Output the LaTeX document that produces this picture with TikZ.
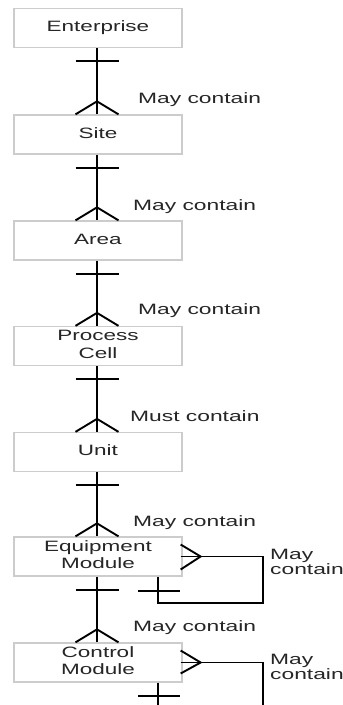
\documentclass[tikz,border=0pt]{standalone}
\usepackage{fontspec}
\usepackage{graphicx}
\setmainfont{Liberation Sans}
\usetikzlibrary{calc}
% widened text, one or more centred lines
\newcommand\widec[1]{\scalebox{1.5}[1]{\begin{tabular}{@{}c@{}}#1\end{tabular}}}
% widened text, left-aligned lines
\newcommand\widel[1]{\scalebox{1.52}[1]{\begin{tabular}{@{}l@{}}#1\end{tabular}}}
\tikzset{
  entity/.style={draw=black!20, line width=1.3pt, minimum width=168pt,
    minimum height=39pt, inner sep=0pt, text=black!85,
    font=\fontsize{15}{17.5}\selectfont},
  rel/.style={line width=1.9pt, black},
  lbl/.style={anchor=west, inner sep=0pt, text=black!85,
    font=\fontsize{15}{15.5}\selectfont},
}
\begin{document}
\begin{tikzpicture}[x=1pt, y=-1pt]
\useasboundingbox (0,0) rectangle (343,705);
\clip (0,0) rectangle (343,705);
\fill[white] (0,0) rectangle (343,705);

% entities
\node[entity] (ent)  at (98,28)    {\widec{Enterprise}};
\node[entity] (site) at (98,134.5) {\widec{Site}};
\node[entity] (area) at (98,240.5) {\widec{Area}};
\node[entity] (pc)   at (98,346)   {\widec{Process\\Cell}};
\node[entity] (unit) at (98,452)   {\widec{Unit}};
\node[entity] (em)   at (98,556.5) {\widec{Equipment\\Module}};
\node[entity] (cm)   at (98,662.5) {\widec{Control\\Module}};

% one-to-many links down the hierarchy
\foreach \a/\b in {ent/site, site/area, area/pc, pc/unit, unit/em, em/cm}{
  \draw[rel] ($(\a.south)+(-1,0)$) -- ($(\b.north)+(-1,0)$);
  \draw[rel] ($(\a.south)+(-22.5,13)$) -- ($(\a.south)+(20.5,13)$);
  \draw[rel] ($(\b.north)+(-22.5,0)$) -- ($(\b.north)+(-1,-13)$)
                                      -- ($(\b.north)+(20.5,0)$);
}

% link labels
\node[lbl] (l1) at (138,100) {\widel{May contain}};
\node[lbl] (l2) at (133,207) {\widel{May contain}};
\node[lbl] (l3) at (138,311) {\widel{May contain}};
\node[lbl] (l4) at (130,418) {\widel{Must contain}};
\node[lbl] (l5) at (133,523) {\widel{May contain}};
\node[lbl] (l6) at (133,628) {\widel{May contain}};

% equipment module contains equipment modules
\coordinate (emv) at ($(em.east)+(18,0)$);
\draw[rel] ($(em.east)+(-2,-12)$) -- (emv) -- ($(em.east)+(-2,13)$);
\draw[rel] ($(em.east)+(-2,0)$) -- ++(82,0) coordinate (emr)
  |- ($(em.south)+(60,26)$) coordinate (emb) -- ($(em.south)+(60,0)$);
\draw[rel] ($(em.south)+(40,14)$) -- ($(em.south)+(82,14)$);
\node[lbl] (l7) at (270,564) {\widel{May\\contain}};

% control module contains control modules
\coordinate (cmv) at ($(cm.east)+(18,0)$);
\draw[rel] ($(cm.east)+(-2,-12)$) -- (cmv) -- ($(cm.east)+(-2,11)$);
\draw[rel] ($(cm.east)+(-2,0)$) -- ++(82,0) -- ++(0,60);
\draw[rel] ($(cm.south)+(60,0)$) -- ++(0,40);
\draw[rel] ($(cm.south)+(40,13)$) -- ($(cm.south)+(82,13)$);
\node[lbl] (l8) at (270,669) {\widel{May\\contain}};
\end{tikzpicture}
\end{document}
